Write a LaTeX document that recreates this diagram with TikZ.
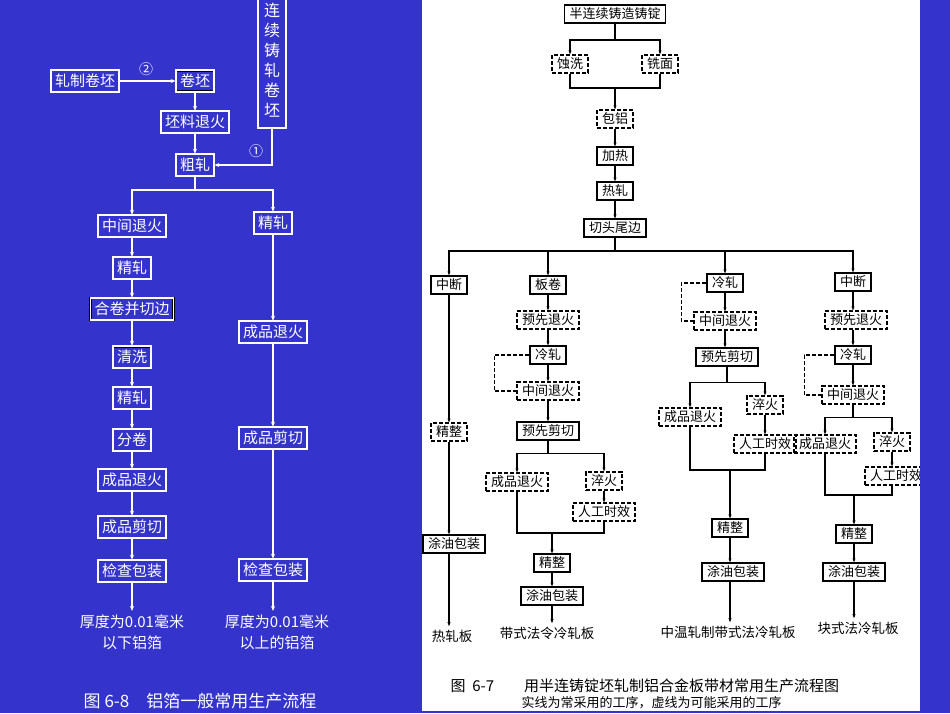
\documentclass[tikz,border=0pt]{standalone}
\usepackage{fontspec}
\setmainfont{Noto Sans CJK SC}
\usetikzlibrary{arrows.meta}
\definecolor{slideblue}{RGB}{52,52,204}

\begin{document}
\begin{tikzpicture}[x=1pt,y=-1pt,
	lbox/.style={draw=black,line width=0.6pt,double=white,double distance=1.6pt,text=white,
		font=\fontsize{15}{17}\selectfont,inner xsep=4pt,inner ysep=4pt},
	lline/.style={draw=white,line width=1.6pt,-{Stealth[length=5pt,width=4pt]}},
	ltext/.style={text=white,font=\fontsize{15}{21}\selectfont,align=center},
	rbox/.style={draw,line width=1.2pt,font=\fontsize{13}{15}\selectfont,
		inner xsep=5pt,inner ysep=3pt},
	rdash/.style={rbox,dash pattern=on 4pt off 2pt},
	rline/.style={line width=1.1pt,-{Stealth[length=4pt,width=3pt]}},
	rloop/.style={line width=1.1pt,dash pattern=on 4pt off 2pt},
	rtext/.style={font=\fontsize{13.5}{15}\selectfont}]
	
	%\draw[help lines] (0,0) grid (950,713);
	\fill[slideblue] (0,0) rectangle (950,713);
	\fill[white] (422,0) rectangle (920,711);
	\useasboundingbox (0,0) rectangle (950,713);
	
	% left: foil
	\node[lbox,text width=16pt,align=center,inner xsep=6pt,minimum height=136pt,
		font=\fontsize{16}{20}\selectfont] (cast) at (272,60) {连\\续\\铸\\轧\\卷\\坯};
	\node[lbox] (blank) at (85,81) {轧制卷坯};
	\node[lbox] (coil) at (195,81) {卷坯};
	\node[text=white,font=\fontsize{14}{14}\selectfont] (n2) at (146,69) {②};
	\node[lbox] (preann) at (195,122) {坯料退火};
	\node[lbox] (rough) at (195,165) {粗轧};
	\node[text=white,font=\fontsize{14}{14}\selectfont] (n1) at (256,151) {①};
	
	\node[lbox] (midann) at (132,226) {中间退火};
	\node[lbox] (fin2) at (132,268) {精轧};
	\node[lbox] (merge) at (132,309) {合卷并切边};
	\node[lbox] (wash) at (132,357) {清洗};
	\node[lbox] (fin3) at (132,398) {精轧};
	\node[lbox] (sep) at (132,440) {分卷};
	\node[lbox] (prodann) at (132,480) {成品退火};
	\node[lbox] (cut) at (132,527) {成品剪切};
	\node[lbox] (pack) at (132,571) {检查包装};
	\node[ltext] (thin) at (132,632) {厚度为0.01毫米\\以下铝箔};
	
	\node[lbox] (fin1) at (273,223) {精轧};
	\node[lbox] (prodann2) at (273,332) {成品退火};
	\node[lbox] (cut2) at (273,438) {成品剪切};
	\node[lbox] (pack2) at (273,570) {检查包装};
	\node[ltext] (thick) at (277,632) {厚度为0.01毫米\\以上的铝箔};
	
	\node[text=white,font=\fontsize{17}{17}\selectfont] (cap1) at (200,701) {图\ 6-8\quad 铝箔一般常用生产流程};
	
	\draw[lline] (blank) -- (coil);
	\draw[lline] (coil) -- (preann);
	\draw[lline] (preann) -- (rough);
	\draw[lline] (cast.south) |- (rough.east);
	\draw[draw=white,line width=1.6pt] (rough.south) -- ++(0,14) coordinate (ls);
	\draw[lline] (ls) -| (midann.north);
	\draw[lline] (ls) -| (fin1.north);
	\draw[lline] (midann) -- (fin2);
	\draw[lline] (fin2) -- (merge);
	\draw[lline] (merge) -- (wash);
	\draw[lline] (wash) -- (fin3);
	\draw[lline] (fin3) -- (sep);
	\draw[lline] (sep) -- (prodann);
	\draw[lline] (prodann) -- (cut);
	\draw[lline] (cut) -- (pack);
	\draw[lline] (pack) -- (thin);
	\draw[lline] (fin1) -- (prodann2);
	\draw[lline] (prodann2) -- (cut2);
	\draw[lline] (cut2) -- (pack2);
	\draw[lline] (pack2.south) -- (pack2.south |- thick.north);
	
	% right: plate and strip
	\node[rbox] (ingot) at (615,14) {半连续铸造铸锭};
	\node[rdash] (etch) at (570,64) {蚀洗};
	\node[rdash] (mill) at (660,64) {铣面};
	\node[rdash] (clad) at (615,119) {包铝};
	\node[rbox] (heat) at (615,156) {加热};
	\node[rbox] (hot) at (615,191) {热轧};
	\node[rbox] (trim) at (615,228) {切头尾边};
	
	\node[rbox] (break1) at (449,285) {中断};
	\node[rdash] (finA) at (449,432) {精整};
	\node[rbox] (oilA) at (454,544) {涂油包装};
	\node[rtext] (outA) at (452,636) {热轧板};
	
	\node[rbox] (roll2) at (548,285) {板卷};
	\node[rdash] (preann2) at (548,320) {预先退火};
	\node[rbox] (cold2) at (548,355) {冷轧};
	\node[rdash] (midann2) at (548,391) {中间退火};
	\node[rbox] (precut2) at (548,431) {预先剪切};
	\node[rdash] (finann2) at (517,482) {成品退火};
	\node[rdash] (quench2) at (604,481) {淬火};
	\node[rdash] (age2) at (604,512) {人工时效};
	\node[rbox] (finB) at (552,563) {精整};
	\node[rbox] (oilB) at (552,596) {涂油包装};
	\node[rtext] (outB) at (547,633) {带式法令冷轧板};
	
	\node[rbox] (cold3) at (725,283) {冷轧};
	\node[rdash] (midann3) at (725,321) {中间退火};
	\node[rbox] (precut3) at (727,357) {预先剪切};
	\node[rdash] (finann3) at (690,417) {成品退火};
	\node[rdash] (quench3) at (765,405) {淬火};
	\node[rdash] (age3) at (765,444) {人工时效};
	\node[rbox] (finC) at (730,528) {精整};
	\node[rbox] (oilC) at (733,572) {涂油包装};
	\node[rtext] (outC) at (728,632) {中温轧制带式法冷轧板};
	
	\node[rbox] (break4) at (853,282) {中断};
	\node[rdash] (preann4) at (856,320) {预先退火};
	\node[rbox] (cold4) at (853,355) {冷轧};
	\node[rdash] (midann4) at (853,395) {中间退火};
	\node[rdash] (finann4) at (825,444) {成品退火};
	\node[rdash] (quench4) at (892,442) {淬火};
	\node[rdash] (age4) at (896,476) {人工时效};
	\node[rbox] (finD) at (854,534) {精整};
	\node[rbox] (oilD) at (854,572) {涂油包装};
	\node[rtext] (outD) at (858,628) {块式法冷轧板};
	
	\node[anchor=west,font=\fontsize{15}{15}\selectfont] (cap2) at (447,686) {图\ \ 6-7\qquad 用半连铸锭坯轧制铝合金板带材常用生产流程图};
	\node[anchor=west,font=\fontsize{13}{13}\selectfont] (cap3) at (518,703) {实线为常采用的工序，虚线为可能采用的工序};
	
	\draw[line width=1.1pt] (ingot.south) -- (615,40) coordinate (s1);
	\draw[rline] (s1) -| (etch.north);
	\draw[rline] (s1) -| (mill.north);
	\draw[line width=1.1pt] (etch.south) |- (615,88) coordinate (j1) -| (mill.south);
	\draw[rline] (j1) -- (clad);
	\draw[rline] (clad) -- (heat);
	\draw[rline] (heat) -- (hot);
	\draw[rline] (hot) -- (trim);
	\draw[line width=1.1pt] (trim.south) -- (615,251) coordinate (s2);
	\draw[rline] (s2) -| (break1.north);
	\draw[rline] (s2) -| (roll2.north);
	\draw[rline] (s2) -| (cold3.north);
	\draw[rline] (s2) -| (break4.north);
	
	\draw[rline] (break1) -- (finA);
	\draw[rline] (finA) -- (finA |- oilA.north);
	\draw[rline] (finA |- oilA.south) -- (finA |- outA.north);
	
	\draw[rline] (roll2) -- (preann2);
	\draw[rline] (preann2) -- (cold2);
	\draw[rline] (cold2) -- (midann2);
	\draw[rloop] (cold2.west) -- ++(-35,0) |- (midann2.west);
	\draw[rline] (midann2) -- (precut2);
	\draw[line width=1.1pt] (precut2.south) -- ++(0,13) coordinate (s3);
	\draw[rline] (s3) -| (finann2.north);
	\draw[rline] (s3) -| (quench2.north);
	\draw[rline] (quench2) -- (age2);
	\draw[line width=1.1pt] (finann2.south) |- (552,533) coordinate (j2) -| (age2.south);
	\draw[rline] (j2) -- (finB);
	\draw[rline] (finB) -- (oilB);
	\draw[rline] (oilB.south) -- (oilB.south |- outB.north);
	
	\draw[rline] (cold3) -- (midann3);
	\draw[rloop] (cold3.west) -- ++(-25,0) |- (midann3.west);
	\draw[rline] (midann3) -- (midann3 |- precut3.north);
	\draw[line width=1.1pt] (precut3.south) -- ++(0,16) coordinate (s4);
	\draw[rline] (s4) -| (finann3.north);
	\draw[rline] (s4) -| (quench3.north);
	\draw[rline] (quench3) -- (age3);
	\draw[line width=1.1pt] (finann3.south) |- (730,470) coordinate (j3) -| (age3.south);
	\draw[rline] (j3) -- (finC);
	\draw[rline] (finC) -- (finC |- oilC.north);
	\draw[rline] (finC |- oilC.south) -- (finC |- outC.north);
	
	\draw[rline] (break4) -- (break4 |- preann4.north);
	\draw[rline] (break4 |- preann4.south) -- (cold4);
	\draw[rline] (cold4) -- (midann4);
	\draw[rloop] (cold4.west) -- ++(-30,0) |- (midann4.west);
	\draw[line width=1.1pt] (midann4.south) -- ++(0,13) coordinate (s5);
	\draw[rline] (s5) -| (finann4.north);
	\draw[rline] (s5) -| (quench4.north);
	\draw[rline] (quench4) -- (quench4 |- age4.north);
	\draw[line width=1.1pt] (finann4.south) |- (854,495) coordinate (j4) -| (quench4 |- age4.south);
	\draw[rline] (j4) -- (finD);
	\draw[rline] (finD) -- (oilD);
	\draw[rline] (oilD.south) -- (oilD.south |- outD.north);
	
	\fill[slideblue] (920,0) rectangle (950,713);
\end{tikzpicture}
\end{document}
